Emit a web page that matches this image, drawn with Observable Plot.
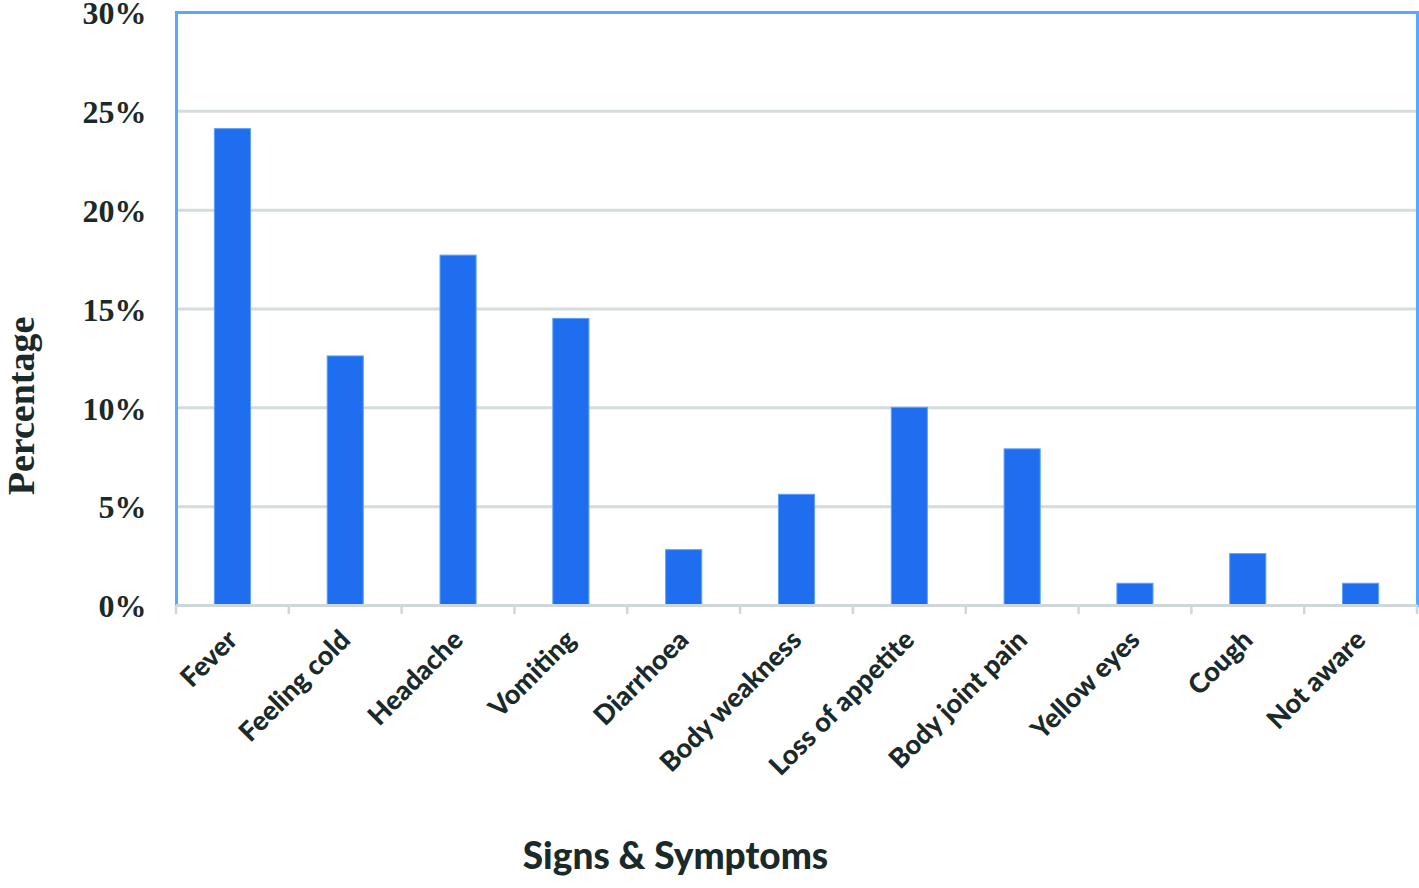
<!DOCTYPE html>
<html><head><meta charset="utf-8">
<script src="https://cdn.jsdelivr.net/npm/d3@7"></script>
<script src="https://cdn.jsdelivr.net/npm/@observablehq/plot@0.6"></script>
<style>
html,body{margin:0;padding:0;background:#fff;}
#chart svg{display:block;}
</style>
</head><body><div id="chart"></div>
<script>
const categories = ["Fever","Feeling cold","Headache","Vomiting","Diarrhoea","Body weakness","Loss of appetite","Body joint pain","Yellow eyes","Cough","Not aware"];
const values = [24.1, 12.6, 17.7, 14.5, 2.8, 5.6, 10.0, 7.9, 1.1, 2.6, 1.1];
const yTicks = [0, 5, 10, 15, 20, 25, 30];
const yTitle = "Percentage";
const xTitle = "Signs & Symptoms";

const data = categories.map((c, i) => ({category: c, value: values[i]}));
const padIn = 0.68, padOut = 0.34;

const boundaryTicks = (index, scales, vals, dims) => {
  const x = scales.x;
  const step = x(categories[1]) - x(categories[0]);
  const y0 = dims.height - dims.marginBottom;
  const g = d3.create("svg:g").attr("stroke", "#cfd8d8").attr("stroke-width", 2.5);
  for (let i = 0; i <= categories.length; i++) {
    const px = x(categories[0]) - padOut * step + i * step;
    g.append("line").attr("x1", px).attr("x2", px).attr("y1", y0).attr("y2", y0 + 9);
  }
  return g.node();
};

const chart = Plot.plot({
  width: 1419,
  height: 888,
  marginLeft: 176,
  marginRight: 2,
  marginTop: 12,
  marginBottom: 283,
  x: {domain: categories, paddingInner: padIn, paddingOuter: padOut, round: false, label: null},
  y: {domain: [0, 30], label: null},
  marks: [
    Plot.ruleY(yTicks, {stroke: "#d5dcdc", strokeWidth: 3}),
    Plot.barY(data, {x: "category", y: "value", fill: "#1f6ef0", stroke: "#5da2f4", strokeWidth: 1}),
    Plot.frame({stroke: "#55aaff", strokeWidth: 3}),
    Plot.ruleY([0], {stroke: "#cfd8d8", strokeWidth: 3}),
    boundaryTicks,
    Plot.axisY(yTicks, {
      tickSize: 0, tickPadding: 30, dy: 1.5, tickFormat: d => d + "%",
      fontSize: 32, fontWeight: "bold", fontFamily: "Liberation Serif", fill: "#1a2a2a", label: null
    }),
    Plot.axisX({
      tickSize: 0, tickRotate: -45, tickPadding: 30,
      fontSize: 27, fontWeight: 900, fontFamily: "Lato", fill: "#1a2a2a", label: null
    }),
    Plot.text([yTitle], {
      frameAnchor: "left", textAnchor: "middle", dx: -155, dy: 97, rotate: -90, fontSize: 38, fontWeight: "bold",
      fontFamily: "Liberation Serif", fill: "#1a2a2a", text: d => d
    }),
    Plot.text([xTitle], {
      frameAnchor: "bottom-left", textAnchor: "middle", dx: 499, dy: 263, fontSize: 37, fontWeight: 900,
      fontFamily: "Lato", fill: "#1a2a2a", text: d => d
    })
  ]
});
document.getElementById("chart").appendChild(chart);
</script>
</body></html>
